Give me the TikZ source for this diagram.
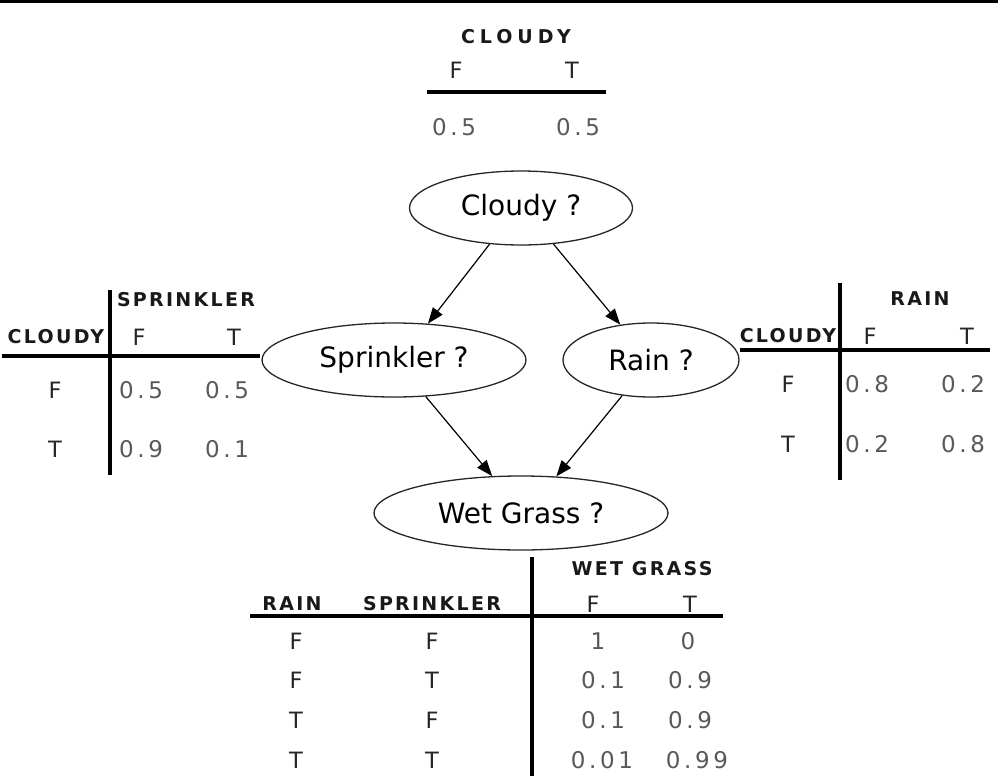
\documentclass[tikz,border=0pt]{standalone}
\usepackage{fontspec}
\setmainfont{DejaVu Sans}
\newfontfamily\hdrfont{DejaVu Sans}[LetterSpace=12]
\newfontfamily\numfont{DejaVu Sans}[LetterSpace=16]
\usetikzlibrary{shapes.geometric, arrows.meta, positioning}

\begin{document}
\begin{tikzpicture}[x=1pt, y=-1pt,
  var/.style={ellipse, draw=black!85, line width=1.3pt, inner sep=0pt, minimum height=74pt, font=\fontsize{28}{30}\selectfont},
  hdr/.style={inner sep=0pt, font=\hdrfont\bfseries\fontsize{19}{21}\selectfont, text=black!90},
  lbl/.style={inner sep=0pt, font=\fontsize{22.5}{24}\selectfont, text=black!85},
  val/.style={inner sep=0pt, font=\numfont\fontsize{23}{24}\selectfont, text=black!65},
  rule/.style={line width=3.5pt},
  arr/.style={-{Triangle[length=16pt, width=12pt]}, line width=1.2pt},
]
\useasboundingbox (0,0) rectangle (998,776);
\fill[black] (0,0) rectangle (998,3);

% prior of cloudy
\node[hdr] (cloudyhdr) at (516,37) {\addfontfeature{LetterSpace=26}CLOUDY};
\node[lbl] (cloudyF) at (456,70) {F};
\node[lbl] (cloudyT) at (572,70) {T};
\draw[rule] (427,92) -- (606,92);
\node[val] (cloudyp0) at (454,127) {0.5};
\node[val] (cloudyp1) at (578,127) {0.5};

% network
\node[var, minimum width=223pt] (cloudy) at (521,208) {Cloudy ?};
\node[var, minimum width=264pt] (spr)    at (394,360) {Sprinkler ?};
\node[var, minimum width=176pt] (rain)   at (651,360) {Rain ?};
\node[var, minimum width=294pt] (wet)    at (521,513) {Wet Grass ?};

\draw[arr] (cloudy.-131) -- (spr.47);
\draw[arr] (cloudy.-48)  -- (rain.131);
\draw[arr] (spr.-49)     -- (wet.128);
\draw[arr] (rain.-129)   -- (wet.46);

% sprinkler given cloudy
\draw[rule] (110,290) -- (110,475);
\draw[rule] (2,356) -- (260,356);
\node[hdr] (sprhdr) at (186,300) {SPRINKLER};
\node[hdr] (sprcond) at (56,337) {CLOUDY};
\node[lbl] (sprF) at (139,337) {F};
\node[lbl] (sprT) at (234,337) {T};
\node[lbl] (sprrF) at (55,390) {F};
\node[val] (spr00) at (141,390) {0.5};
\node[val] (spr01) at (227,390) {0.5};
\node[lbl] (sprrT) at (55,449) {T};
\node[val] (spr10) at (141,449) {0.9};
\node[val] (spr11) at (227,449) {0.1};

% rain given cloudy
\draw[rule] (840,283) -- (840,480);
\draw[rule] (740,350) -- (990,350);
\node[hdr] (rainhdr) at (920,299) {RAIN};
\node[hdr] (raincond) at (788,336) {CLOUDY};
\node[lbl] (rainF) at (870,336) {F};
\node[lbl] (rainT) at (967,336) {T};
\node[lbl] (rainrF) at (788,384) {F};
\node[val] (rain00) at (867,384) {0.8};
\node[val] (rain01) at (963,384) {0.2};
\node[lbl] (rainrT) at (788,444) {T};
\node[val] (rain10) at (867,444) {0.2};
\node[val] (rain11) at (963,444) {0.8};

% wet grass given rain, sprinkler
\draw[rule] (532,557) -- (532,776);
\draw[rule] (250,616) -- (723,616);
\node[hdr] (wethdr) at (642,569) {WET GRASS};
\node[hdr] (wetrain) at (292,604) {RAIN};
\node[hdr] (wetspr) at (432,604) {SPRINKLER};
\node[lbl] (wetF) at (593,604) {F};
\node[lbl] (wetT) at (690,604) {T};
\node[lbl] (wr1) at (296,641) {F};
\node[lbl] (ws1) at (432,641) {F};
\node[val] (w10) at (598,641) {1};
\node[val] (w11) at (688,641) {0};
\node[lbl] (wr2) at (296,680) {F};
\node[lbl] (ws2) at (432,680) {T};
\node[val] (w20) at (603,680) {0.1};
\node[val] (w21) at (690,680) {0.9};
\node[lbl] (wr3) at (296,720) {T};
\node[lbl] (ws3) at (432,720) {F};
\node[val] (w30) at (603,720) {0.1};
\node[val] (w31) at (690,720) {0.9};
\node[lbl] (wr4) at (296,760) {T};
\node[lbl] (ws4) at (432,760) {T};
\node[val] (w40) at (602,760) {0.01};
\node[val] (w41) at (697,760) {0.99};
\end{tikzpicture}
\end{document}
